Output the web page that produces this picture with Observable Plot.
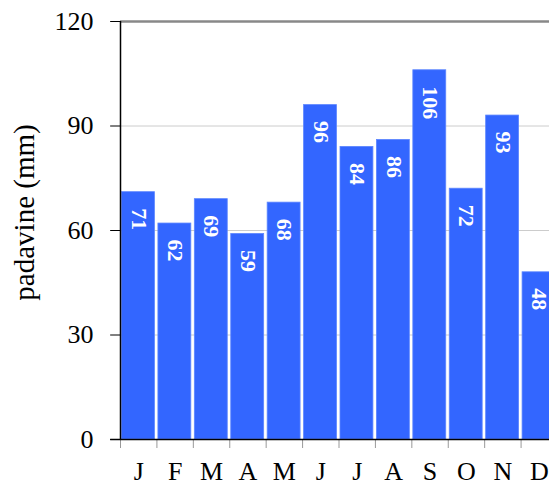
<!DOCTYPE html>
<html>
<head>
<meta charset="utf-8">
<script src="https://cdn.jsdelivr.net/npm/d3@7"></script>
<script src="https://cdn.jsdelivr.net/npm/@observablehq/plot@0.6"></script>
<style>
  html, body { margin: 0; padding: 0; background: #fff; overflow: hidden; }
  #chart { width: 549px; height: 481px; overflow: hidden; }
</style>
</head>
<body>
<div id="chart"></div>
<script>
const months = ["J", "F", "M", "A", "M", "J", "J", "A", "S", "O", "N", "D"];
const rainfall = [71, 62, 69, 59, 68, 96, 84, 86, 106, 72, 93, 48];
const yTicks = [0, 30, 60, 90, 120];
const yLabel = "padavine (mm)";

const data = months.map((m, i) => ({i, m, v: rainfall[i]}));
const blue = "#3366ff";
const serif = "'Liberation Serif', 'Times New Roman', serif";

const plot = Plot.plot({
  width: 549,
  height: 481,
  marginLeft: 120,
  marginRight: 0,
  marginTop: 21,
  marginBottom: 42,
  style: {fontFamily: serif, background: "#fff", overflow: "hidden"},
  x: {type: "linear", domain: [0, 12], range: [120, 557], axis: null},
  y: {domain: [0, 120], axis: null},
  marks: [
    Plot.ruleY(yTicks.filter(t => t > 0 && t < 120), {stroke: "#cccccc", strokeWidth: 1}),
    Plot.ruleY([120], {stroke: "#888888", strokeWidth: 2.5}),
    Plot.rectY(data, {x1: "i", x2: d => d.i + 1, y: "v", fill: blue, insetLeft: 1.5, insetRight: 2, stroke: "#5c86ff", strokeWidth: 0.8}),
    Plot.text(data, {x: d => d.i + 0.5, y: "v", text: d => String(d.v), rotate: 90, textAnchor: "start", lineAnchor: "middle", dy: 16, fill: "white", fontWeight: "bold", fontSize: 22, fontFamily: serif}),
    // y ticks and tick labels
    Plot.ruleY(yTicks, {y: d => d, x1: -0.27, x2: 0, stroke: "black"}),
    Plot.text(yTicks, {x: 0, y: d => d, text: d => String(d), textAnchor: "end", dx: -27, fontSize: 26, fontFamily: serif, fill: "black"}),
    // x ticks at band edges and month labels
    Plot.ruleX(d3.range(0, 12), {x: d => d, y1: 0, y2: 0, stroke: "#999", insetBottom: -9}),
    Plot.text(data, {x: d => d.i + 0.5, y: 0, text: "m", lineAnchor: "top", dy: 22, fontSize: 26, fontFamily: serif, fill: "black"}),
    // y axis label
    Plot.text([yLabel], {frameAnchor: "left", textAnchor: "middle", dx: -96, dy: -18, rotate: -90, fontSize: 29, fontFamily: serif, fill: "black"}),
    Plot.ruleX([0], {stroke: "black", strokeWidth: 1.5}),
    Plot.ruleY([0], {stroke: "black", strokeWidth: 1.5, x1: -0.27, x2: 12})
  ]
});
document.getElementById("chart").appendChild(plot);
</script>
</body>
</html>
